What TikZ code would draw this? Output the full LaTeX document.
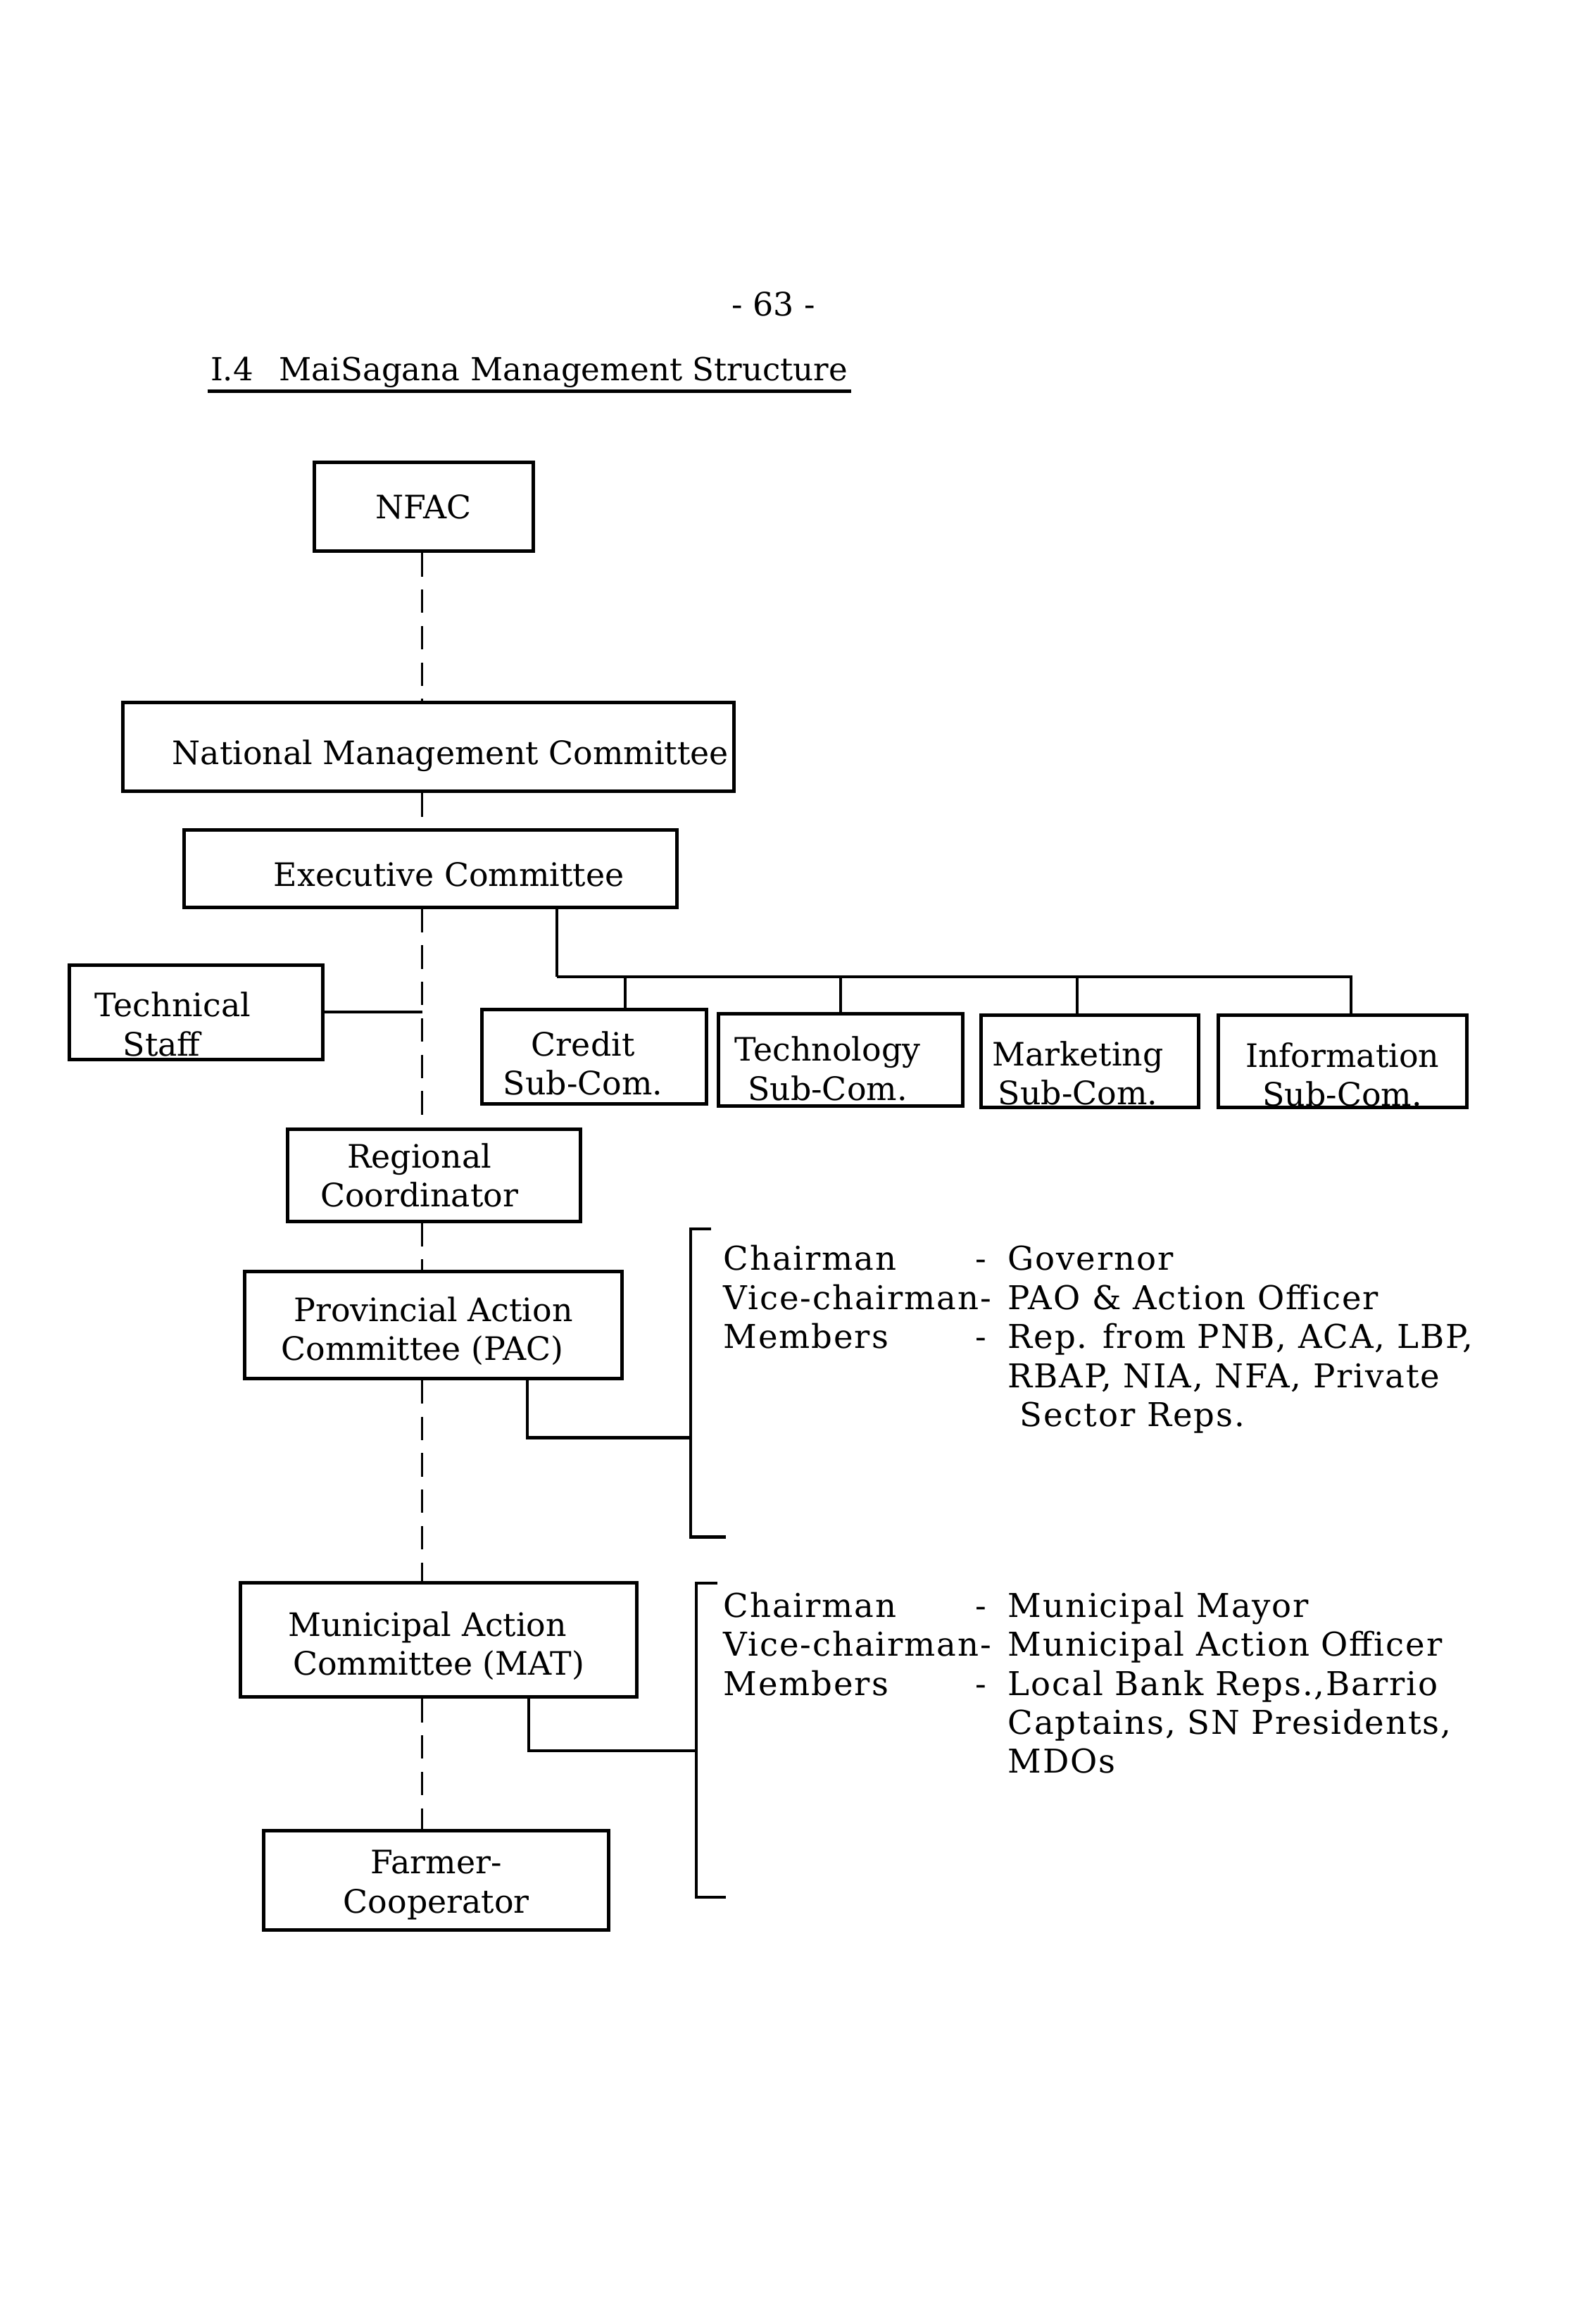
\documentclass[tikz,border=0pt]{standalone}
\usepackage{fontspec}
\setmainfont{DejaVu Serif}
\usepackage{tikz}
\usetikzlibrary{positioning,calc}
\newcommand\dropline[1]{\rule{0pt}{#1}}

\begin{document}
\begin{tikzpicture}[
  x=0.02cm, y=-0.02cm,
  font=\fontsize{12.4}{15}\selectfont,
  unit/.style={
    rectangle,
    draw=black,
    line width=1.35pt,
    align=center,
    inner xsep=2pt,
    inner ysep=0pt
  },
  lowtext/.style={execute at begin node={\rule{0pt}{#1}}},
  link/.style={line width=1.1pt},
  spine/.style={line width=0.9pt, dash pattern=on 9pt off 5pt},
  roles/.style={anchor=base west, inner sep=0pt, align=left,
    font=\fontsize{12.6}{15}\selectfont\addfontfeature{LetterSpace=4}}
]

\useasboundingbox (0,0) rectangle (1072,1568);

\node (pageno) at (522,205) {- 63 -};
\node[anchor=base west, inner sep=1pt, font=\fontsize{12.2}{15}\selectfont] (title) at (140,257) {I.4\hspace{0.35cm}MaiSagana Management Structure};
\draw[line width=1.4pt] (title.south west) -- (title.south east);

\node[unit, minimum width=2.96cm, minimum height=1.2cm] (nfac) at (286,342) {NFAC};
\node[unit, lowtext=16pt, minimum width=8.24cm, minimum height=1.2cm] (nmc) at (289,504) {\hspace{0.6cm}National Management Committee};
\node[unit, lowtext=14pt, minimum width=6.66cm, minimum height=1.04cm] (exec) at (290.5,586) {\hspace{0.5cm}Executive Committee};
\node[unit, lowtext=18.5pt, minimum width=3.42cm, minimum height=1.28cm, text width=2.74cm, inner xsep=0.34cm, align=left] (techstaff) at (132.5,683) {Technical\\\hspace*{0.38cm}Staff};
\node[unit, minimum width=3.04cm, minimum height=1.28cm] (credit) at (401,713) {\dropline{14.5pt}Credit\hspace*{0.3cm}\\Sub-Com.\hspace*{0.3cm}};
\node[unit, minimum width=3.3cm, minimum height=1.24cm] (technology) at (567.5,715) {\dropline{16.2pt}Technology\hspace*{0.36cm}\\Sub-Com.\hspace*{0.36cm}};
\node[unit, minimum width=2.94cm, minimum height=1.24cm] (marketing) at (735.5,716) {\dropline{18.5pt}Marketing\hspace*{0.32cm}\\Sub-Com.\hspace*{0.32cm}};
\node[unit, minimum width=3.36cm, minimum height=1.24cm] (information) at (906,716) {\dropline{19.6pt}Information\\Sub-Com.};
\node[unit, minimum width=3.96cm, minimum height=1.24cm] (regional) at (293,793) {Regional\hspace*{0.4cm}\\Coordinator\hspace*{0.4cm}};
\node[unit, minimum width=5.1cm, minimum height=1.44cm] (pac) at (292.5,894) {\dropline{14pt}Provincial Action\\Committee (PAC)\hspace*{0.3cm}};
\node[unit, minimum width=5.36cm, minimum height=1.54cm] (mat) at (296,1106.5) {\dropline{14pt}Municipal Action\hspace*{0.3cm}\\Committee (MAT)};
\node[unit, minimum width=4.66cm, minimum height=1.34cm] (farmer) at (294.5,1268.5) {\dropline{12.8pt}Farmer-\\Cooperator};

\coordinate (spinex) at (285,0);
\foreach \a/\b in {nfac/nmc, nmc/exec, exec/regional, regional/pac, pac/mat, mat/farmer}
  \draw[spine] (\a.south -| spinex) -- (\b.north -| spinex);

\draw[link] (techstaff.east) -- (techstaff.east -| spinex);

\coordinate (bus) at (376,659);
\draw[link] (exec.south -| bus) -- (bus);
\foreach \n/\dx in {credit/0.42cm, technology/0cm, marketing/-0.17cm, information/0.12cm}
  \draw[link] ([xshift=\dx]\n.north) |- (bus);

\coordinate (pactop) at (466,829);
\coordinate (pacbot) at (466,1037);
\coordinate (pacjoin) at (466,970);
\draw[link] (pactop) ++(14,0) -- (pactop) -- (pacbot) -- ++(24,0);
\draw[link] ([xshift=1.27cm]pac.south) |- (pacjoin);

\coordinate (mattop) at (470,1068);
\coordinate (matbot) at (470,1280);
\coordinate (matjoin) at (470,1181);
\draw[link] (mattop) ++(14,0) -- (mattop) -- (matbot) -- ++(20,0);
\draw[link] ([xshift=1.22cm]mat.south) |- (matjoin);

\node[roles] (pacroles) at (488,857) {\begin{tabular}[t]{@{}p{3.4cm}@{}p{0.44cm}@{}l@{}}
Chairman & - & Governor\\
\multicolumn{2}{@{}l@{}}{Vice-chairman-} & PAO \& Action Officer\\
Members & - & Rep. from PNB, ACA, LBP,\\
 & & RBAP, NIA, NFA, Private\\
 & & \hspace{0.16cm}Sector Reps.
\end{tabular}};

\node[roles] (matroles) at (488,1091) {\begin{tabular}[t]{@{}p{3.4cm}@{}p{0.44cm}@{}l@{}}
Chairman & - & Municipal Mayor\\
\multicolumn{2}{@{}l@{}}{Vice-chairman-} & Municipal Action Officer\\
Members & - & Local Bank Reps.,Barrio\\
 & & Captains, SN Presidents,\\
 & & MDOs
\end{tabular}};

\end{tikzpicture}
\end{document}
